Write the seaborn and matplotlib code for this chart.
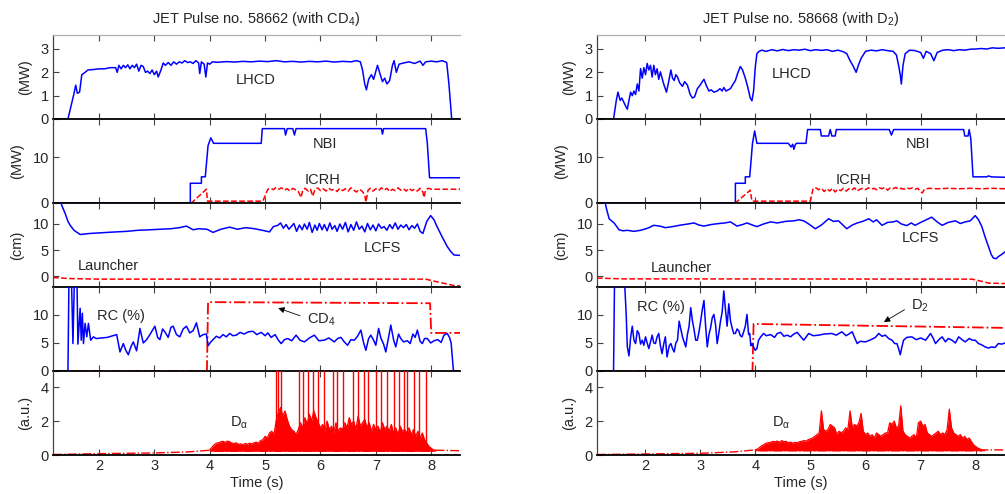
import numpy as np
import matplotlib
matplotlib.use("Agg")
import matplotlib.pyplot as plt
import seaborn as sns

# ---------------- DATA: JET pulse 58662 (with CD4) ----------------
LHCD_L = [(1.17,0),(1.44,0),(1.5,0.6),(1.55,1.1),(1.58,1.45),(1.61,1.1),(1.65,1.15),(1.69,1.9),(1.75,2.0),(1.8,2.1),
          (1.9,2.12),(2.0,2.15),(2.1,2.15),(2.2,2.2),(2.3,2.2),(2.33,2.0),(2.36,2.3),(2.4,2.15),(2.44,2.3),(2.48,2.2),
          (2.52,2.32),(2.56,2.15),(2.6,2.3),(2.64,2.2),(2.68,2.35),(2.72,2.05),(2.76,2.3),(2.8,2.25),(2.84,2.0),(2.88,2.05),
          (2.92,1.95),(2.96,2.1),(3.0,1.9),(3.04,2.05),(3.07,1.8),(3.12,2.1),(3.16,2.4),(3.2,2.3),(3.25,2.42),(3.3,2.3),
          (3.35,2.45),(3.4,2.35),(3.45,2.45),(3.5,2.4),(3.55,2.5),(3.6,2.42),(3.65,2.45),(3.7,2.38),(3.75,2.5),(3.8,2.4),
          (3.82,1.95),(3.85,2.45),(3.9,2.35),(3.93,1.8),(3.96,2.4),(4.0,2.35),(4.05,2.45),(4.15,2.43),(4.3,2.46),(4.45,2.44),
          (4.6,2.47),(4.75,2.45),(4.9,2.48),(5.05,2.46),(5.2,2.5),(5.35,2.45),(5.5,2.47),(5.65,2.44),(5.8,2.47),(5.95,2.45),
          (6.1,2.48),(6.25,2.44),(6.4,2.47),(6.55,2.45),(6.65,2.5),(6.72,2.45),(6.76,2.1),(6.8,1.5),(6.83,1.25),(6.87,1.7),
          (6.92,1.9),(6.96,1.7),(7.03,2.3),(7.08,1.9),(7.12,1.6),(7.16,1.75),(7.2,1.5),(7.25,1.65),(7.3,2.3),(7.33,2.5),
          (7.37,2.0),(7.42,2.35),(7.5,2.4),(7.6,2.45),(7.7,2.38),(7.8,2.48),(7.85,2.3),(7.9,2.45),(8.0,2.48),(8.1,2.45),
          (8.2,2.5),(8.28,2.42),(8.32,1.5),(8.37,0),(8.55,0)]

NBI_L = [(1.17,0),(3.65,0),(3.65,4.3),(3.85,4.3),(3.85,5.7),(3.92,5.7),(3.97,12.5),(4.02,14.2),(4.07,13.0),(4.93,13.0),
         (4.95,16.2),(5.35,16.2),(5.37,14.8),(5.40,16.2),(5.50,16.2),(5.53,14.8),(5.56,16.2),(7.1,16.2),(7.12,15.0),
         (7.14,16.2),(7.9,16.2),(7.93,13.0),(7.97,5.5),(8.55,5.5)]

ICRH_L = [(1.17,0),(3.67,0),(3.94,3.0),(3.96,0.4),(4.96,0.4),(5.05,3.0),(5.1,3.2),(5.15,2.9),(5.2,3.4),(5.25,3.0),
          (5.3,3.3),(5.35,2.8),(5.4,3.1),(5.45,2.6),(5.5,3.2),(5.55,2.9),(5.6,2.5),(5.65,1.2),(5.68,2.8),(5.72,3.2),
          (5.78,2.6),(5.82,3.0),(5.86,1.5),(5.9,2.9),(5.95,3.3),(6.0,2.7),(6.05,3.1),(6.1,2.6),(6.15,3.2),(6.2,2.8),
          (6.25,3.0),(6.3,2.5),(6.35,3.2),(6.4,2.7),(6.45,3.1),(6.5,2.6),(6.55,3.3),(6.6,2.8),(6.65,2.4),(6.7,3.0),
          (6.75,2.6),(6.8,1.8),(6.82,0.2),(6.86,2.8),(6.9,3.2),(6.95,2.6),(7.0,3.1),(7.05,2.7),(7.1,3.3),(7.15,2.8),
          (7.2,3.2),(7.25,2.5),(7.3,3.0),(7.35,2.7),(7.4,3.3),(7.45,2.8),(7.5,3.1),(7.55,2.6),(7.6,3.2),(7.65,2.7),
          (7.7,3.0),(7.75,2.6),(7.8,3.2),(7.85,2.4),(7.87,1.2),(7.9,2.9),(7.95,3.2),(8.0,3.0),(8.55,3.0)]

LCFS_L = [(1.3,14.5),(1.33,13.5),(1.39,12.0),(1.44,10.5),(1.48,9.75),(1.55,8.8),(1.66,8.0),(1.75,8.1),(1.84,8.2),(2.0,8.3),
          (2.15,8.4),(2.32,8.5),(2.5,8.6),(2.7,8.8),(2.92,8.9),(3.1,9.0),(3.3,9.1),(3.45,9.3),(3.58,9.6),(3.7,8.9),
          (3.8,9.1),(3.95,9.0),(4.06,8.4),(4.2,9.0),(4.36,9.4),(4.5,9.0),(4.65,9.3),(4.81,9.1),(4.95,8.8),(5.08,8.5),
          (5.15,9.5),(5.23,9.75),(5.28,10.2),(5.33,9.2),(5.38,9.9),(5.43,9.0),(5.48,9.6),(5.52,10.1),(5.57,8.6),(5.62,9.8),
          (5.67,8.9),(5.71,10.0),(5.76,9.0),(5.8,10.3),(5.85,8.4),(5.9,9.8),(5.94,8.8),(5.98,10.1),(6.03,8.9),(6.07,9.9),
          (6.12,8.7),(6.17,10.2),(6.21,9.0),(6.26,9.7),(6.3,8.6),(6.35,10.0),(6.4,9.0),(6.45,10.3),(6.5,8.5),(6.55,9.9),
          (6.6,8.8),(6.65,10.4),(6.7,9.0),(6.75,9.6),(6.8,8.5),(6.85,10.1),(6.9,8.9),(6.95,9.8),(7.0,8.7),(7.05,10.0),
          (7.1,9.2),(7.15,9.5),(7.2,8.8),(7.25,9.9),(7.3,9.1),(7.35,10.2),(7.4,9.0),(7.45,9.8),(7.5,9.3),(7.55,9.9),
          (7.6,8.9),(7.65,9.7),(7.7,9.2),(7.75,10.0),(7.8,8.6),(7.85,8.2),(7.92,10.5),(7.99,11.6),(8.05,10.8),(8.11,9.4),
          (8.2,7.5),(8.29,5.7),(8.35,4.8),(8.41,4.1),(8.55,4.0)]

LAUNCHER_L = [(1.17,-0.2),(1.5,-0.4),(2.0,-0.5),(7.9,-0.5),(8.1,-1.0),(8.4,-1.7),(8.55,-1.85)]

RC_L = [(1.17,0),(1.44,0),(1.46,18),(1.5,18),(1.53,4.9),(1.56,18),(1.6,18),(1.62,4.8),(1.66,11.2),(1.68,5.5),
        (1.7,10.3),(1.72,4.9),(1.75,8.5),(1.78,6.1),(1.81,8.5),(1.85,5.5),(1.9,6.1),(1.95,5.8),(2.05,5.9),(2.15,6.0),
        (2.25,6.3),(2.32,6.5),(2.38,3.4),(2.44,4.9),(2.48,3.8),(2.53,2.9),(2.58,4.4),(2.62,5.2),(2.68,3.6),(2.74,7.6),
        (2.8,5.0),(2.86,5.6),(2.92,6.5),(3.01,8.0),(3.06,6.0),(3.1,5.6),(3.15,7.5),(3.19,7.0),(3.25,6.0),(3.3,7.8),
        (3.34,8.0),(3.4,6.5),(3.46,6.1),(3.52,7.5),(3.58,8.0),(3.64,6.8),(3.7,7.2),(3.76,8.6),(3.82,6.1),(3.88,6.5),
        (3.94,6.6),(3.97,4.5),(4.02,5.2),(4.06,5.6),(4.12,6.2),(4.18,5.9),(4.24,6.5),(4.3,6.1),(4.36,6.7),(4.42,6.3),
        (4.48,6.4),(4.55,6.9),(4.62,6.6),(4.7,7.0),(4.78,7.1),(4.85,6.5),(4.93,6.9),(5.0,6.3),(5.05,6.8),(5.11,6.0),
        (5.18,6.5),(5.24,5.5),(5.29,4.9),(5.35,5.6),(5.41,5.8),(5.48,5.4),(5.56,6.4),(5.63,5.5),(5.71,5.2),(5.8,5.9),
        (5.89,6.4),(5.97,5.4),(6.07,5.5),(6.15,5.9),(6.25,5.2),(6.31,5.8),(6.37,6.0),(6.43,5.2),(6.49,4.6),(6.55,5.6),
        (6.61,5.5),(6.67,6.2),(6.73,7.3),(6.78,5.0),(6.82,3.7),(6.87,5.8),(6.91,6.4),(6.96,5.5),(7.0,4.6),(7.05,7.6),
        (7.09,5.9),(7.14,4.8),(7.18,3.4),(7.23,6.0),(7.27,8.2),(7.32,5.6),(7.36,4.3),(7.41,6.6),(7.45,5.8),(7.5,5.2),
        (7.57,5.4),(7.62,4.9),(7.67,6.6),(7.71,6.0),(7.75,7.3),(7.8,5.3),(7.84,4.9),(7.88,5.8),(7.93,5.8),(7.99,5.0),
        (8.05,5.4),(8.12,5.6),(8.18,5.1),(8.23,6.4),(8.29,6.7),(8.33,6.0),(8.36,5.0),(8.4,0.2),(8.42,0),(8.55,0)]

GAS_L = [(1.17,0),(3.95,0),(3.97,12.3),(7.98,12.1),(8.0,6.8),(8.55,6.8)]

DA_FLOOR_L = [(1.17,0.03),(2.0,0.08),(3.0,0.12),(3.6,0.18),(4.0,0.28),(4.1,0.22),(8.0,0.22),(8.1,0.28),(8.55,0.25)]
DA_ENV_START_L, DA_ENV_END_L = 4.0, 8.08
DA_ENV_L = [0.30,0.45,0.6,0.7,0.72,0.78,0.8,0.75,0.82,0.78,
            0.7,0.68,0.72,0.62,0.66,0.6,0.68,0.63,0.7,0.65,
            0.72,0.75,0.7,0.85,0.9,1.1,1.0,1.3,1.4,1.2,
            2.0,2.5,2.8,2.3,2.6,2.1,1.7,1.5,1.4,1.2,
            1.5,1.9,1.6,2.2,1.8,2.4,2.0,2.6,2.2,1.9,
            1.6,1.8,1.4,2.0,1.5,1.7,1.3,1.9,1.4,1.6,
            1.5,1.9,1.6,2.2,1.8,2.0,1.5,2.3,1.7,1.9,
            2.1,1.6,1.9,1.4,1.8,1.5,1.7,1.3,1.9,1.5,
            1.7,1.4,1.8,1.3,1.6,1.2,1.7,1.4,1.5,1.3,
            1.6,1.2,1.5,1.1,1.4,1.0,1.3,0.9,0.7,0.5,
            0.4,0.3,0.28]
DA_SPIKES_L = [5.20,5.24,5.29,5.62,5.69,5.77,5.86,5.95,6.07,6.22,6.29,6.40,6.58,6.67,6.79,6.85,
               7.0,7.09,7.21,7.33,7.42,7.51,7.57,7.69,7.78,7.90]
DA_SPIKE_TOP = 6.0
DA_FILL_BASE = 0.22

# ---------------- DATA: JET pulse 58668 (with D2) ----------------
LHCD_R = [(1.13,0),(1.43,0),(1.48,0.8),(1.51,1.15),(1.55,0.8),(1.58,0.9),(1.62,0.7),(1.65,0.55),(1.68,0.42),(1.71,0.8),
          (1.74,1.15),(1.77,1.0),(1.8,1.2),(1.83,1.05),(1.86,1.5),(1.89,1.2),(1.92,2.16),(1.95,1.75),(1.98,2.2),(2.01,1.9),
          (2.04,2.38),(2.07,2.1),(2.1,2.3),(2.13,1.8),(2.16,2.3),(2.19,1.9),(2.22,2.15),(2.25,1.7),(2.28,2.02),(2.31,1.75),
          (2.34,1.5),(2.39,1.15),(2.43,1.6),(2.47,2.1),(2.5,1.75),(2.53,1.65),(2.56,1.9),(2.59,1.8),(2.63,1.55),(2.68,1.4),
          (2.72,1.6),(2.77,1.45),(2.82,1.05),(2.86,0.9),(2.9,0.95),(2.95,1.3),(3.0,1.45),(3.04,1.6),(3.07,1.7),(3.11,1.45),
          (3.16,1.2),(3.2,1.25),(3.25,1.15),(3.31,1.2),(3.36,1.3),(3.4,1.2),(3.43,1.35),(3.47,1.2),(3.51,1.25),(3.55,1.3),
          (3.6,1.5),(3.64,1.65),(3.68,1.95),(3.73,2.25),(3.77,2.1),(3.82,1.75),(3.86,1.4),(3.91,0.9),(3.94,0.78),(3.97,1.2),
          (4.0,2.2),(4.03,2.8),(4.07,2.9),(4.12,2.95),(4.2,2.9),(4.3,2.97),(4.4,2.92),(4.5,2.98),(4.6,2.93),(4.7,2.97),
          (4.8,2.95),(4.9,2.99),(5.0,2.93),(5.1,2.97),(5.2,2.94),(5.3,2.97),(5.4,2.9),(5.5,2.95),(5.6,2.88),(5.66,2.8),
          (5.72,2.5),(5.78,2.25),(5.83,2.0),(5.87,2.3),(5.92,2.6),(6.0,2.9),(6.1,2.95),(6.2,2.92),(6.3,2.97),(6.4,2.93),
          (6.5,2.9),(6.56,2.75),(6.6,2.3),(6.63,1.9),(6.65,1.5),(6.68,2.3),(6.72,2.8),(6.8,2.95),(6.9,2.93),(7.0,2.85),
          (7.05,2.6),(7.1,2.9),(7.18,2.8),(7.24,2.5),(7.3,2.85),(7.4,2.95),(7.5,2.97),(7.6,2.93),(7.7,2.97),(7.8,2.95),
          (7.9,2.99),(8.0,3.0),(8.1,3.02),(8.2,3.0),(8.3,3.05),(8.4,3.03),(8.53,3.05)]

NBI_R = [(1.13,0),(3.64,0),(3.64,4.3),(3.82,4.3),(3.82,5.7),(3.9,5.7),(3.95,13.0),(3.99,15.7),(4.03,13.0),(4.6,13.0),
         (4.65,12.2),(4.68,12.8),(4.7,11.7),(4.73,12.8),(4.75,13.0),(4.92,13.0),(4.95,16.0),(5.18,16.0),(5.2,14.6),
         (5.33,14.6),(5.36,16.0),(5.39,14.6),(5.45,14.6),(5.47,16.0),(6.43,16.0),(6.47,14.8),(6.51,16.0),(7.78,16.0),
         (7.8,14.6),(7.86,14.6),(7.88,16.0),(7.91,14.0),(7.95,5.7),(8.2,5.7),(8.23,5.9),(8.28,5.7),(8.53,5.6)]

ICRH_R = [(1.13,0),(3.64,0),(3.91,2.8),(3.94,0.4),(5.0,0.4),(5.05,3.2),(5.1,3.3),(5.15,2.9),(5.2,3.2),(5.25,2.5),
          (5.3,3.1),(5.35,2.6),(5.4,3.2),(5.45,2.4),(5.5,3.0),(5.55,2.7),(5.6,3.2),(5.65,2.6),(5.7,3.1),(5.75,2.8),
          (5.8,3.3),(5.85,2.6),(5.9,3.0),(5.95,3.2),(6.0,2.9),(6.05,3.3),(6.1,3.0),(6.15,3.2),(6.2,2.9),(6.25,3.3),
          (6.3,3.1),(6.35,3.4),(6.4,2.8),(6.45,3.3),(6.5,3.1),(6.55,3.4),(6.6,3.0),(6.65,3.2),(6.7,3.0),(6.75,3.3),
          (6.8,3.1),(6.85,3.3),(6.9,3.0),(6.95,3.2),(7.0,2.4),(7.03,2.2),(7.07,3.0),(7.15,3.2),(7.3,3.1),(7.5,3.2),
          (7.7,3.1),(7.9,3.2),(8.1,3.1),(8.3,3.2),(8.53,3.1)]

LCFS_R = [(1.27,14.5),(1.3,13.0),(1.35,11.0),(1.44,10.2),(1.53,8.9),(1.6,8.7),(1.68,8.8),(1.8,8.6),(1.92,8.8),(2.05,9.2),
          (2.16,9.75),(2.27,9.6),(2.37,9.3),(2.5,9.5),(2.65,9.8),(2.78,10.0),(2.89,10.2),(2.98,9.8),(3.07,9.6),(3.2,9.9),
          (3.35,10.1),(3.45,10.2),(3.55,10.4),(3.67,9.6),(3.77,9.9),(3.85,10.2),(3.95,9.8),(4.03,9.5),(4.15,10.0),(4.28,10.4),
          (4.4,10.2),(4.55,10.5),(4.7,10.6),(4.79,10.8),(4.88,10.6),(4.97,10.0),(5.09,9.1),(5.2,9.8),(5.33,11.0),(5.42,10.5),
          (5.51,10.6),(5.58,9.9),(5.66,9.1),(5.76,9.8),(5.85,10.2),(5.95,10.5),(6.06,11.0),(6.14,10.4),(6.2,10.8),(6.3,9.75),
          (6.4,10.3),(6.5,10.4),(6.57,10.6),(6.65,10.0),(6.75,9.7),(6.83,10.2),(6.9,9.75),(7.0,10.3),(7.1,10.8),(7.2,11.3),
          (7.3,10.4),(7.39,9.75),(7.5,10.3),(7.63,10.6),(7.72,10.1),(7.81,10.4),(7.9,10.6),(7.99,11.6),(8.05,10.8),(8.11,9.5),
          (8.17,7.5),(8.23,5.7),(8.28,4.2),(8.32,3.5),(8.37,3.4),(8.41,3.8),(8.47,4.2),(8.53,4.7)]

LAUNCHER_R = [(1.13,-0.3),(1.6,-0.45),(7.93,-0.5),(8.1,-0.9),(8.23,-1.25),(8.53,-1.35)]

RC_R = [(1.13,0),(1.43,0),(1.45,18),(1.62,18),(1.66,10),(1.68,4.3),(1.71,2.7),(1.74,6.0),(1.77,8.0),(1.8,5.5),
        (1.83,4.9),(1.86,7.2),(1.89,6.7),(1.92,4.8),(1.95,5.5),(1.98,4.6),(2.01,6.1),(2.04,5.0),(2.07,4.0),(2.1,5.2),
        (2.13,6.4),(2.16,5.0),(2.19,4.9),(2.22,6.1),(2.25,6.7),(2.28,4.5),(2.31,3.1),(2.34,4.8),(2.37,6.1),(2.4,2.5),
        (2.44,4.5),(2.47,4.9),(2.5,4.0),(2.53,3.4),(2.56,5.0),(2.59,5.5),(2.62,8.9),(2.65,7.5),(2.68,6.1),(2.71,5.2),
        (2.74,4.3),(2.77,6.5),(2.8,8.0),(2.83,11.3),(2.86,9.0),(2.89,7.4),(2.92,5.5),(2.95,5.5),(2.98,7.0),(3.01,8.9),
        (3.04,11.0),(3.07,12.6),(3.1,8.0),(3.13,4.3),(3.16,6.5),(3.19,7.7),(3.22,9.5),(3.25,10.1),(3.28,8.3),(3.31,4.9),
        (3.34,6.8),(3.37,8.9),(3.4,10.5),(3.43,14.3),(3.46,11.0),(3.49,8.0),(3.52,12.0),(3.55,9.0),(3.58,7.7),(3.61,6.7),
        (3.64,6.7),(3.67,7.5),(3.7,7.2),(3.73,6.3),(3.76,6.1),(3.79,7.0),(3.82,8.0),(3.85,10.1),(3.88,6.5),(3.9,6.7),
        (3.92,4.5),(3.94,4.9),(3.97,4.3),(4.0,3.7),(4.03,4.0),(4.06,5.5),(4.1,6.1),(4.15,6.7),(4.2,6.3),(4.28,6.5),
        (4.35,6.0),(4.4,6.7),(4.46,6.9),(4.52,6.2),(4.58,6.4),(4.64,6.1),(4.7,6.6),(4.76,6.9),(4.82,6.2),(4.88,5.5),
        (4.97,6.7),(5.05,6.3),(5.15,6.4),(5.25,6.6),(5.39,6.7),(5.47,6.4),(5.57,7.0),(5.65,6.3),(5.76,7.0),(5.8,6.0),
        (5.85,4.9),(5.9,5.3),(6.0,5.2),(6.1,5.6),(6.18,6.0),(6.24,6.7),(6.3,6.2),(6.36,6.4),(6.42,5.8),(6.48,5.5),
        (6.53,4.9),(6.57,4.9),(6.6,4.0),(6.63,2.9),(6.66,4.3),(6.69,5.5),(6.75,6.0),(6.84,6.1),(6.92,5.6),(7.0,5.9),
        (7.09,5.5),(7.18,6.7),(7.23,5.8),(7.27,4.9),(7.33,5.6),(7.39,6.1),(7.45,5.2),(7.5,5.8),(7.57,5.5),(7.63,5.0),
        (7.69,6.1),(7.75,5.6),(7.81,5.2),(7.88,5.8),(7.94,5.5),(7.99,5.5),(8.05,4.9),(8.12,4.6),(8.17,4.3),(8.23,4.1),
        (8.29,4.3),(8.35,4.2),(8.41,4.9),(8.47,4.8),(8.53,5.0)]

GAS_R = [(1.13,0),(3.95,0),(3.97,8.4),(8.53,7.7)]

DA_FLOOR_R = [(1.13,0.03),(2.0,0.06),(3.0,0.1),(3.6,0.18),(4.0,0.3),(4.1,0.25),(8.1,0.25),(8.16,0.3),(8.53,0.3)]
DA_ENV_START_R, DA_ENV_END_R = 4.0, 8.16
DA_ENV_R = [0.3,0.35,0.45,0.55,0.62,0.7,0.72,0.75,0.8,0.78,
            0.82,0.75,0.85,0.78,0.8,0.72,0.76,0.7,0.74,0.72,
            0.78,0.8,0.85,0.82,0.9,0.95,1.0,1.1,1.2,1.3,
            2.6,1.5,1.4,1.5,1.8,1.7,1.6,1.2,1.4,1.3,
            1.4,1.6,1.5,2.6,1.6,1.8,1.7,1.9,2.45,1.4,
            1.2,1.3,1.1,1.2,1.0,1.3,1.2,1.1,1.2,1.3,
            1.3,1.9,1.8,2.0,1.6,1.7,2.9,1.4,1.2,1.1,
            1.0,1.1,1.2,1.0,1.9,2.0,1.7,1.8,1.3,1.2,
            1.1,1.2,1.3,1.4,1.2,1.3,1.2,1.5,2.7,1.6,
            1.3,1.2,1.1,1.2,1.0,1.1,0.9,1.0,0.8,0.6,
            0.5,0.4,0.35,0.3,0.28]
DA_FILL_BASE_R = 0.25

TITLES = ["JET Pulse no. 58662 (with CD$_4$)", "JET Pulse no. 58668 (with D$_2$)"]
YLABELS = ["(MW)", "(MW)", "(cm)", "", "(a.u.)"]
YLIMS = [(0, 3.6), (0, 18.3), (-2, 14), (0, 15), (0, 4.95)]
YTICKS = [[0, 1, 2, 3], [0, 10], [0, 5, 10], [0, 5, 10], [0, 2, 4]]
XTICKS = [2, 3, 4, 5, 6, 7, 8]
XLABEL = "Time (s)"

# ---------------- STYLE ----------------
sns.set_theme(style="white")
plt.rcParams["font.family"] = ["Liberation Sans", "DejaVu Sans"]
plt.rcParams["mathtext.fontset"] = "custom"
plt.rcParams["mathtext.rm"] = "Liberation Sans"
plt.rcParams["mathtext.it"] = "Liberation Sans"
plt.rcParams["mathtext.default"] = "regular"

BLUE = "#0000ff"
RED = "#ff0000"
FS = 10.5

fig = plt.figure(figsize=(10.05, 4.94), dpi=100)

panel_h = 84 / 494
top = 1 - 35 / 494
lefts = [53 / 1005, 597 / 1005]
width = [407 / 1005, 408 / 1005]
xlims = [(1.17, 8.52), (1.13, 8.53)]


def draw(ax, pairs, color, ls="-", lw=1.1, zorder=2):
    t, v = zip(*pairs)
    sns.lineplot(x=list(t), y=list(v), ax=ax, color=color, linestyle=ls, lw=lw,
                 estimator=None, sort=False, zorder=zorder, legend=False)


data = [
    dict(lhcd=LHCD_L, nbi=NBI_L, icrh=ICRH_L, lcfs=LCFS_L, lau=LAUNCHER_L, rc=RC_L, gas=GAS_L,
         floor=DA_FLOOR_L, env=DA_ENV_L, env_se=(DA_ENV_START_L, DA_ENV_END_L), base=DA_FILL_BASE,
         spikes=DA_SPIKES_L),
    dict(lhcd=LHCD_R, nbi=NBI_R, icrh=ICRH_R, lcfs=LCFS_R, lau=LAUNCHER_R, rc=RC_R, gas=GAS_R,
         floor=DA_FLOOR_R, env=DA_ENV_R, env_se=(DA_ENV_START_R, DA_ENV_END_R), base=DA_FILL_BASE_R,
         spikes=[]),
]

labels = [
    dict(lhcd=(4.47, 1.65), nbi=(5.86, 12.8), icrh=(5.71, 5.0), lcfs=(6.79, 5.4), lau=(1.62, 2.0),
         rc=(1.96, 9.8), gas=(5.75, 9.1), gas_txt="CD$_4$", arrow=((5.19, 11.4), (5.68, 9.7)), da=(4.36, 1.9)),
    dict(lhcd=(4.3, 1.95), nbi=(6.73, 12.8), icrh=(5.46, 5.0), lcfs=(6.66, 7.3), lau=(2.1, 1.6),
         rc=(1.86, 11.4), gas=(6.82, 11.6), gas_txt="D$_2$", arrow=((6.29, 8.5), (6.75, 11.2)), da=(4.3, 1.9)),
]

for col in range(2):
    d = data[col]
    lb = labels[col]
    axes = []
    for row in range(5):
        ax = fig.add_axes([lefts[col], top - (row + 1) * panel_h, width[col], panel_h])
        axes.append(ax)
    a1, a2, a3, a4, a5 = axes

    draw(a1, d["lhcd"], BLUE)
    draw(a2, d["icrh"], RED, "--", 1.1)
    draw(a2, d["nbi"], BLUE, zorder=3)
    draw(a3, d["lcfs"], BLUE)
    draw(a3, d["lau"], RED, "--", 1.1)
    draw(a4, d["gas"], RED, "-.", 1.3)
    draw(a4, d["rc"], BLUE, zorder=3)

    # D-alpha
    draw(a5, d["floor"], RED, "-.", 1.0)
    t_env = np.linspace(d["env_se"][0], d["env_se"][1], len(d["env"]))
    a5.fill_between(t_env, d["base"], d["env"], color=RED, lw=0, zorder=2)
    draw(a5, list(zip(t_env, d["env"])), RED, "-", 0.9)
    if d["spikes"]:
        a5.vlines(d["spikes"], d["base"], DA_SPIKE_TOP, color=RED, lw=1.0, zorder=2)

    # text labels
    kw = dict(fontsize=FS, ha="left", va="center")
    a1.text(*lb["lhcd"], "LHCD", **kw)
    a2.text(*lb["nbi"], "NBI", **kw)
    a2.text(*lb["icrh"], "ICRH", **kw)
    a3.text(*lb["lcfs"], "LCFS", **kw)
    a3.text(*lb["lau"], "Launcher", **kw)
    a4.text(*lb["rc"], "RC (%)", **kw)
    a4.text(*lb["gas"], lb["gas_txt"], **kw)
    a4.annotate("", xy=lb["arrow"][0], xytext=lb["arrow"][1],
                arrowprops=dict(arrowstyle="-|>", color="black", lw=0.6, mutation_scale=9))
    a5.text(*lb["da"], r"D$_{\alpha}$", **kw)

    for row, ax in enumerate(axes):
        ax.set_xlim(*xlims[col])
        ax.set_ylim(*YLIMS[row])
        ax.set_yticks(YTICKS[row])
        ax.set_xticks(XTICKS)
        ax.tick_params(direction="in", top=True, bottom=True, left=True, right=False,
                       length=4, width=0.8, labelsize=FS, color="#444444", pad=3)
        ax.set_ylabel(YLABELS[row], fontsize=FS, labelpad=6)
        ax.spines["right"].set_visible(False)
        ax.spines["left"].set_color("#444444")
        ax.spines["left"].set_linewidth(0.9)
        ax.spines["bottom"].set_color("black")
        ax.spines["bottom"].set_linewidth(1.3)
        ax.spines["bottom"].set_zorder(5)
        if row == 0:
            ax.spines["top"].set_color("#b0b0b0")
            ax.spines["top"].set_linewidth(0.9)
        else:
            ax.spines["top"].set_visible(False)
        if row < 4:
            ax.tick_params(labelbottom=False)
        ax.set_xlabel("")
        ax.patch.set_alpha(0)
    a5.set_xlabel(XLABEL, fontsize=FS, labelpad=2)
    a1.set_title(TITLES[col], fontsize=FS, pad=9)

fig.savefig("out.png", dpi=100)
